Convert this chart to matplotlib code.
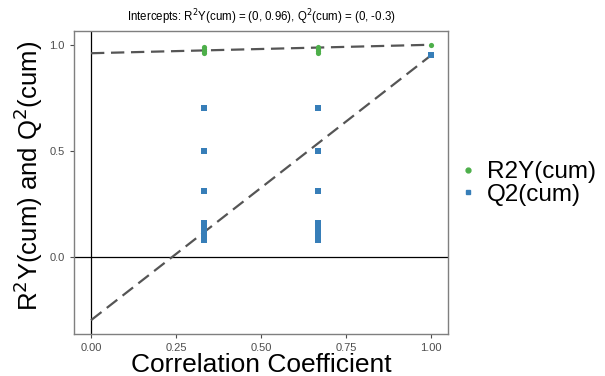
import matplotlib
matplotlib.use("Agg")
import matplotlib.pyplot as plt
from matplotlib.lines import Line2D

plt.rcParams['font.family'] = ['Liberation Sans', 'DejaVu Sans']

# Data
r2_x = [1/3, 1/3, 1/3, 1/3, 2/3, 2/3, 2/3, 2/3, 1.0]
r2_y = [0.96, 0.97, 0.98, 0.99, 0.96, 0.97, 0.98, 0.99, 1.0]
q2_x = [1/3]*8 + [2/3]*8 + [1.0]
q2_y = [0.70, 0.50, 0.31, 0.16, 0.14, 0.12, 0.10, 0.08,
        0.70, 0.50, 0.31, 0.16, 0.14, 0.12, 0.10, 0.08, 0.95]
r2_intercept = 0.96
q2_intercept = -0.3
x_ticks = [0.0, 0.25, 0.5, 0.75, 1.0]
x_tick_labels = ["0.00", "0.25", "0.50", "0.75", "1.00"]
y_ticks = [0.0, 0.5, 1.0]
y_tick_labels = ["0.0", "0.5", "1.0"]

green = "#4daf4a"
blue = "#377eb8"

fig = plt.figure(figsize=(6.05, 3.76), dpi=100)
ax = fig.add_axes([0.1223, 0.1117, 0.6182, 0.8059])

ax.axhline(0, color="black", lw=0.9, zorder=1)
ax.axvline(0, color="black", lw=0.9, zorder=1)

ax.plot([0, 1], [r2_intercept, r2_y[-1]], ls=(0, (6, 3)), color="#555555", lw=1.6, zorder=2)
ax.plot([0, 1], [q2_intercept, q2_y[-1]], ls=(0, (6, 3)), color="#555555", lw=1.6, zorder=2)

ax.scatter(r2_x, r2_y, s=14, marker="o", color=green, zorder=3, linewidths=0)
ax.scatter(q2_x, q2_y, s=20, marker="s", color=blue, zorder=3, linewidths=0)

ax.set_xlim(-0.05, 1.05)
ax.set_ylim(-0.365, 1.065)
ax.set_xticks(x_ticks)
ax.set_xticklabels(x_tick_labels)
ax.set_yticks(y_ticks)
ax.set_yticklabels(y_tick_labels)
ax.tick_params(labelsize=8, colors="#4d4d4d", length=3, width=0.8)
for sp in ax.spines.values():
    sp.set_color("#7f7f7f")
    sp.set_linewidth(1.0)

ax.set_xlabel("Correlation Coefficient", fontsize=19, color="black", labelpad=0)
ax.set_ylabel("R$^2$Y(cum) and Q$^2$(cum)", fontsize=18.5, color="black")
ax.yaxis.set_label_coords(-0.077, 0.521)
ax.set_title("Intercepts: R$^2$Y(cum) = (0, 0.96), Q$^2$(cum) = (0, -0.3)", fontsize=8.3, pad=7)

handles = [Line2D([], [], marker="o", ls="", color=green, markersize=3.5),
           Line2D([], [], marker="s", ls="", color=blue, markersize=3.5)]
fig.legend(handles, ["R2Y(cum)", "Q2(cum)"], loc="center left", bbox_to_anchor=(0.761, 0.512),
           frameon=False, fontsize=17.5, handlelength=0.6, handletextpad=0.5, labelspacing=0.0,
           borderpad=0, borderaxespad=0)

fig.savefig("out.png", dpi=100)
